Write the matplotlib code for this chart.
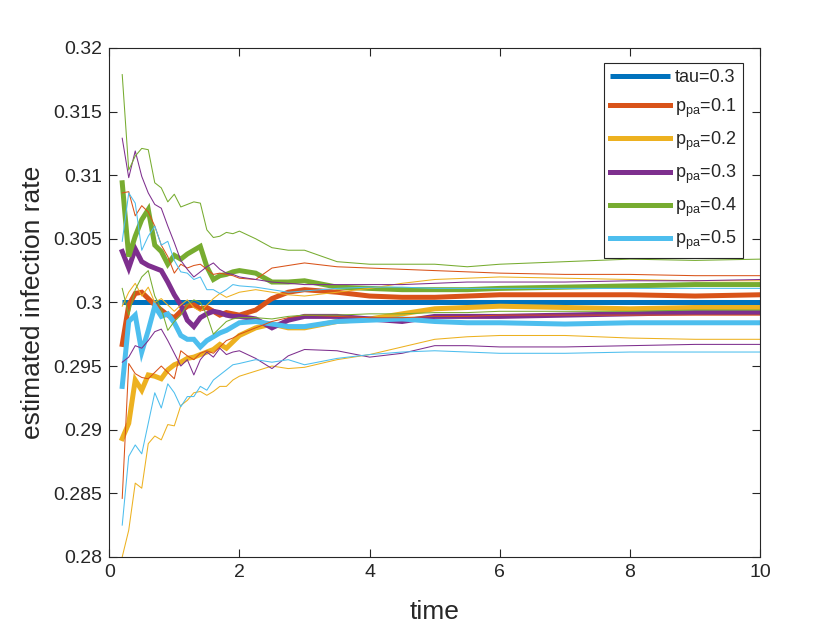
import matplotlib
matplotlib.use('Agg')
import matplotlib.pyplot as plt
from matplotlib.ticker import FixedLocator, FixedFormatter

plt.rcParams['font.family'] = ['Liberation Sans', 'DejaVu Sans']
plt.rcParams['mathtext.fontset'] = 'custom'
plt.rcParams['mathtext.rm'] = 'Liberation Sans'
plt.rcParams['mathtext.it'] = 'Liberation Sans'

# time grid
t = [0.2, 0.3, 0.4, 0.5, 0.6, 0.7, 0.8, 0.9, 1.0, 1.1, 1.2, 1.3, 1.4, 1.5, 1.6, 1.7, 1.8, 1.9, 2.0,
     2.25, 2.5, 2.75, 3.0, 3.5, 4.0, 4.5, 5.0, 5.5, 6.0, 7.0, 8.0, 9.0, 10.0]

tau = 0.3
labels = ['tau=0.3', 'p$_{\\mathrm{pa}}$=0.1', 'p$_{\\mathrm{pa}}$=0.2',
          'p$_{\\mathrm{pa}}$=0.3', 'p$_{\\mathrm{pa}}$=0.4', 'p$_{\\mathrm{pa}}$=0.5']

# p_pa = 0.1
mean01 = [0.2967, 0.2998, 0.3007, 0.3008, 0.3003, 0.2998, 0.2994, 0.2990, 0.2988, 0.2993, 0.2997,
          0.2998, 0.2995, 0.2996, 0.2993, 0.2990, 0.2992, 0.2991, 0.2990, 0.2994, 0.3003, 0.3008,
          0.3010, 0.3008, 0.3005, 0.3004, 0.3004, 0.3005, 0.3006, 0.3006, 0.3006, 0.3005, 0.3006]
hi01 = [0.3086, 0.3087, 0.3068, 0.3076, 0.3071, 0.3060, 0.3045, 0.3036, 0.3023, 0.3030, 0.3027,
        0.3029, 0.3030, 0.3026, 0.3022, 0.3023, 0.3022, 0.3021, 0.3019, 0.3018, 0.3027, 0.3029,
        0.3031, 0.3028, 0.3027, 0.3026, 0.3025, 0.3024, 0.3023, 0.3022, 0.3022, 0.3021, 0.3021]
lo01 = [0.2846, 0.2952, 0.2944, 0.2941, 0.2940, 0.2945, 0.2950, 0.2945, 0.2940, 0.2962, 0.2958,
        0.2955, 0.2960, 0.2962, 0.2960, 0.2965, 0.2970, 0.2972, 0.2975, 0.2980, 0.2985, 0.2988,
        0.2990, 0.2989, 0.2988, 0.2988, 0.2989, 0.2989, 0.2990, 0.2990, 0.2990, 0.2990, 0.2990]

# p_pa = 0.2
mean02 = [0.2893, 0.2905, 0.2939, 0.2931, 0.2943, 0.2942, 0.2940, 0.2947, 0.2951, 0.2953, 0.2956,
          0.2957, 0.2959, 0.2961, 0.2963, 0.2967, 0.2964, 0.2969, 0.2974, 0.2980, 0.2983, 0.2980,
          0.2980, 0.2985, 0.2987, 0.2991, 0.2995, 0.2996, 0.2997, 0.2996, 0.2995, 0.2996, 0.2996]
hi02 = [0.2997, 0.3008, 0.3015, 0.3005, 0.3012, 0.3000, 0.3003, 0.2998, 0.2993, 0.2998, 0.3002,
        0.2996, 0.2993, 0.2998, 0.3003, 0.3007, 0.3004, 0.3006, 0.3008, 0.3010, 0.3008, 0.3006,
        0.3005, 0.3008, 0.3011, 0.3015, 0.3018, 0.3019, 0.3020, 0.3019, 0.3018, 0.3017, 0.3017]
lo02 = [0.2800, 0.2821, 0.2858, 0.2854, 0.2889, 0.2895, 0.2892, 0.2904, 0.2903, 0.2919, 0.2923,
        0.2929, 0.2930, 0.2927, 0.2930, 0.2934, 0.2934, 0.2939, 0.2942, 0.2946, 0.2950, 0.2948,
        0.2949, 0.2955, 0.2959, 0.2965, 0.2971, 0.2973, 0.2974, 0.2974, 0.2972, 0.2971, 0.2971]

# p_pa = 0.3
mean03 = [0.3040, 0.3027, 0.3042, 0.3032, 0.3029, 0.3027, 0.3025, 0.3016, 0.3006, 0.2998, 0.2986,
          0.2981, 0.2988, 0.2991, 0.2993, 0.2992, 0.2990, 0.2989, 0.2989, 0.2987, 0.2980, 0.2986,
          0.2989, 0.2989, 0.2987, 0.2985, 0.2989, 0.2989, 0.2989, 0.2990, 0.2991, 0.2992, 0.2992]
hi03 = [0.3129, 0.3098, 0.3119, 0.3099, 0.3086, 0.3077, 0.3074, 0.3060, 0.3047, 0.3033, 0.3026,
        0.3020, 0.3024, 0.3028, 0.3031, 0.3026, 0.3023, 0.3022, 0.3020, 0.3018, 0.3016, 0.3015,
        0.3014, 0.3014, 0.3014, 0.3014, 0.3015, 0.3016, 0.3016, 0.3016, 0.3017, 0.3017, 0.3018]
lo03 = [0.2953, 0.2957, 0.2966, 0.2964, 0.2970, 0.2977, 0.2979, 0.2970, 0.2960, 0.2950, 0.2955,
        0.2943, 0.2955, 0.2961, 0.2957, 0.2964, 0.2959, 0.2961, 0.2962, 0.2956, 0.2948, 0.2958,
        0.2963, 0.2962, 0.2957, 0.2960, 0.2966, 0.2966, 0.2965, 0.2965, 0.2966, 0.2967, 0.2967]

# p_pa = 0.4
mean04 = [0.3094, 0.3036, 0.3052, 0.3065, 0.3073, 0.3045, 0.3040, 0.3030, 0.3037, 0.3034, 0.3038,
          0.3041, 0.3044, 0.3028, 0.3018, 0.3021, 0.3022, 0.3024, 0.3025, 0.3023, 0.3016, 0.3016,
          0.3017, 0.3012, 0.3011, 0.3010, 0.3010, 0.3010, 0.3011, 0.3012, 0.3013, 0.3014, 0.3014]
hi04 = [0.3179, 0.3104, 0.3115, 0.3121, 0.3120, 0.3094, 0.3090, 0.3079, 0.3085, 0.3075, 0.3077,
        0.3079, 0.3078, 0.3057, 0.3051, 0.3052, 0.3055, 0.3054, 0.3056, 0.3050, 0.3043, 0.3041,
        0.3041, 0.3032, 0.3030, 0.3030, 0.3030, 0.3028, 0.3030, 0.3032, 0.3034, 0.3033, 0.3034]
lo04 = [0.3011, 0.2990, 0.3010, 0.3020, 0.3025, 0.3005, 0.2995, 0.2978, 0.2985, 0.2990, 0.2998,
        0.3002, 0.3000, 0.2990, 0.2975, 0.2980, 0.2985, 0.2987, 0.2988, 0.2988, 0.2987, 0.2989,
        0.2990, 0.2990, 0.2991, 0.2991, 0.2992, 0.2992, 0.2993, 0.2993, 0.2993, 0.2994, 0.2994]

# p_pa = 0.5
mean05 = [0.2934, 0.2985, 0.2990, 0.2961, 0.2978, 0.2997, 0.2989, 0.2991, 0.2984, 0.2974, 0.2971,
          0.2971, 0.2965, 0.2970, 0.2973, 0.2976, 0.2978, 0.2981, 0.2984, 0.2985, 0.2983, 0.2981,
          0.2981, 0.2985, 0.2986, 0.2987, 0.2985, 0.2984, 0.2984, 0.2983, 0.2984, 0.2984, 0.2984]
hi05 = [0.3048, 0.3086, 0.3078, 0.3041, 0.3052, 0.3060, 0.3045, 0.3048, 0.3033, 0.3024, 0.3023,
        0.3018, 0.3020, 0.3010, 0.3010, 0.3007, 0.3010, 0.3014, 0.3013, 0.3012, 0.3010, 0.3008,
        0.3009, 0.3011, 0.3012, 0.3012, 0.3011, 0.3011, 0.3011, 0.3011, 0.3011, 0.3011, 0.3011]
lo05 = [0.2825, 0.2879, 0.2888, 0.2881, 0.2905, 0.2929, 0.2917, 0.2936, 0.2929, 0.2918, 0.2926,
        0.2926, 0.2934, 0.2931, 0.2939, 0.2943, 0.2947, 0.2951, 0.2952, 0.2955, 0.2953, 0.2955,
        0.2951, 0.2956, 0.2959, 0.2961, 0.2962, 0.2961, 0.2960, 0.2960, 0.2961, 0.2961, 0.2961]

yticks = [0.28, 0.285, 0.29, 0.295, 0.3, 0.305, 0.31, 0.315, 0.32]
ytick_labels = ['0.28', '0.285', '0.29', '0.295', '0.3', '0.305', '0.31', '0.315', '0.32']

colors = ['#0072BD', '#D95319', '#EDB120', '#7E2F8E', '#77AC30', '#4DBEEE']
means = [mean01, mean02, mean03, mean04, mean05]
highs = [hi01, hi02, hi03, hi04, hi05]
lows = [lo01, lo02, lo03, lo04, lo05]

fig = plt.figure(figsize=(8.4, 6.3), dpi=100)
ax = fig.add_axes([0.13, 0.116, 0.775, 0.808])

thick = 3.6
thin = 0.75
handles = []
h, = ax.plot([t[0], t[-1]], [tau, tau], color=colors[0], lw=thick, solid_capstyle='butt')
handles.append(h)
for i in range(5):
    h, = ax.plot(t, means[i], color=colors[i + 1], lw=thick, solid_joinstyle='miter')
    handles.append(h)
for i in range(5):
    ax.plot(t, highs[i], color=colors[i + 1], lw=thin)
    ax.plot(t, lows[i], color=colors[i + 1], lw=thin)

ax.set_xlim(0, 10)
ax.set_ylim(0.28, 0.32)
ax.set_xticks([0, 2, 4, 6, 8, 10])
ax.yaxis.set_major_locator(FixedLocator(yticks))
ax.yaxis.set_major_formatter(FixedFormatter(ytick_labels))

txt = '#262626'
ax.tick_params(direction='in', length=6, width=0.8, top=True, right=True,
               labelsize=14, colors=txt, pad=5)
for s in ax.spines.values():
    s.set_linewidth(0.8)
    s.set_color(txt)

ax.set_xlabel('time', fontsize=19, color=txt, labelpad=14)
ax.set_ylabel('estimated infection rate', fontsize=19, color=txt, labelpad=6)

leg = ax.legend(handles, labels, loc='upper right', bbox_to_anchor=(0.974, 0.97),
                borderaxespad=0, fontsize=13, handlelength=3.3, handletextpad=0.3,
                labelspacing=0.55, borderpad=0.35, fancybox=False, framealpha=1)
leg.get_frame().set_edgecolor(txt)
leg.get_frame().set_linewidth(0.8)
for text in leg.get_texts():
    text.set_color(txt)

fig.savefig('out.png', dpi=100)
